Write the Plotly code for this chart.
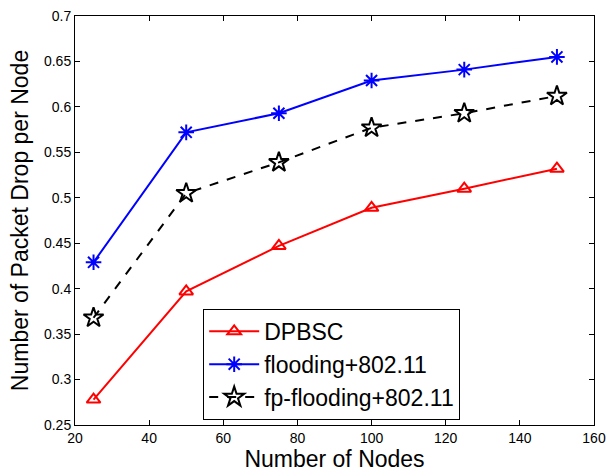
import plotly.graph_objects as go

nodes = [25, 50, 75, 100, 125, 150]
dpbsc = [0.278, 0.397, 0.447, 0.489, 0.510, 0.532]
flooding = [0.429, 0.572, 0.593, 0.629, 0.641, 0.655]
fp_flooding = [0.368, 0.505, 0.539, 0.577, 0.593, 0.612]

x_ticks = [20, 40, 60, 80, 100, 120, 140, 160]
y_ticks = [0.25, 0.3, 0.35, 0.4, 0.45, 0.5, 0.55, 0.6, 0.65, 0.7]
y_tick_text = ["0.25", "0.3", "0.35", "0.4", "0.45", "0.5", "0.55", "0.6", "0.65", "0.7"]

FONT = "Liberation Sans, Arial, sans-serif"

fig = go.Figure()
fig.add_trace(go.Scatter(x=nodes, y=dpbsc, name="DPBSC", mode="lines+markers",
                         line=dict(color="red", width=2),
                         marker=dict(symbol="triangle-up-open", size=12, color="red",
                                     line=dict(width=2, color="red"))))
fig.add_trace(go.Scatter(x=nodes, y=flooding, name="flooding+802.11", mode="lines+markers",
                         line=dict(color="blue", width=2),
                         marker=dict(symbol="asterisk-open", size=13, color="blue",
                                     line=dict(width=2, color="blue"))))
fig.add_trace(go.Scatter(x=nodes, y=fp_flooding, name="fp-flooding+802.11", mode="lines+markers",
                         line=dict(color="black", width=2, dash="dash"),
                         marker=dict(symbol="star-open", size=15, color="black",
                                     line=dict(width=2, color="black"))))

axis_common = dict(showline=True, linecolor="black", linewidth=1, mirror="ticks",
                   ticks="inside", ticklen=5, tickcolor="black", showgrid=False,
                   zeroline=False, tickfont=dict(family=FONT, size=14, color="black"))

fig.update_xaxes(range=[20, 160], tickvals=x_ticks, ticktext=[str(v) for v in x_ticks],
                 title=dict(text="Number of Nodes", font=dict(family=FONT, size=23, color="black"),
                            standoff=4),
                 **axis_common)
fig.update_yaxes(range=[0.25, 0.7], tickvals=y_ticks, ticktext=y_tick_text,
                 title=dict(text="Number of Packet Drop per Node", font=dict(family=FONT, size=23, color="black"),
                            standoff=8),
                 **axis_common)

fig.update_layout(
    width=609, height=475,
    margin=dict(l=75, r=15, t=16, b=50, autoexpand=False),
    plot_bgcolor="white", paper_bgcolor="white",
    font=dict(family=FONT, color="black"),
    legend=dict(x=0.247, y=0.284, xanchor="left", yanchor="top",
                bgcolor="white", bordercolor="black", borderwidth=1,
                font=dict(family=FONT, size=23, color="black"),
                tracegroupgap=0, itemwidth=50),
)

fig.write_html("out.html")
